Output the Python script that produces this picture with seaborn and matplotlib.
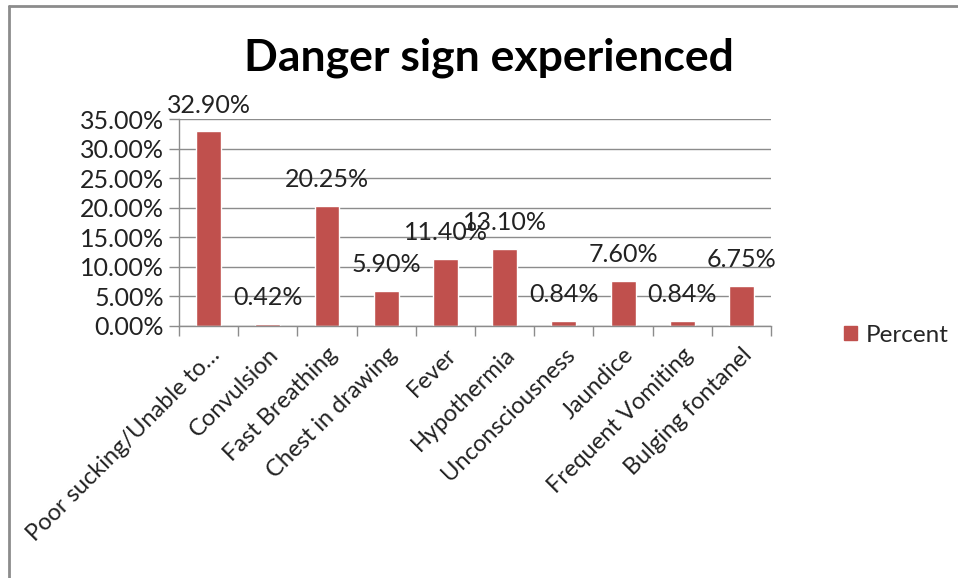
import matplotlib
matplotlib.use("Agg")
import matplotlib.pyplot as plt
import seaborn as sns
import pandas as pd
from matplotlib.lines import Line2D
from matplotlib.patches import Patch
from matplotlib.ticker import FuncFormatter, FixedLocator

categories = ["Poor sucking/Unable to\u2026", "Convulsion", "Fast Breathing",
              "Chest in drawing", "Fever", "Hypothermia", "Unconsciousness",
              "Jaundice", "Frequent Vomiting", "Bulging fontanel"]
percent = [32.90, 0.42, 20.25, 5.90, 11.40, 13.10, 0.84, 7.60, 0.84, 6.75]
label_texts = ["32.90%", "0.42%", "20.25%", "5.90%", "11.40%", "13.10%",
               "0.84%", "7.60%", "0.84%", "6.75%"]
yticks = [0, 5, 10, 15, 20, 25, 30, 35]

sns.set_theme(style="white")
plt.rcParams['font.family'] = ['Lato', 'DejaVu Sans']

df = pd.DataFrame({"Category": categories, "Percent": percent})

fig = plt.figure(figsize=(9.58, 5.78), dpi=100)
ax = fig.add_axes([0.1869, 0.436, 0.618, 0.358])

bar_color = "#C0504D"
sns.barplot(data=df, x="Category", y="Percent", color=bar_color, width=0.42,
            ax=ax, saturation=1)

ax.set_ylim(0, 35)
ax.set_xlim(-0.5, len(categories) - 0.5)
ax.set_yticks(yticks)
ax.yaxis.set_major_formatter(FuncFormatter(lambda v, p: f"{v:.2f}%"))
ax.grid(axis="y", color="#8c8c8c", linewidth=1)
ax.set_axisbelow(True)
ax.set_xlabel("")
ax.set_ylabel("")

for s in ["top", "right"]:
    ax.spines[s].set_visible(False)
for s in ["left", "bottom"]:
    ax.spines[s].set_color("#8c8c8c")
    ax.spines[s].set_linewidth(1)

ax.tick_params(axis="y", which="major", left=True, length=7, width=1,
               color="#8c8c8c", labelsize=18, labelcolor="#222222", pad=4)
ax.set_xticks(range(len(categories)))
ax.set_xticklabels(categories, rotation=45, ha="right", rotation_mode="anchor",
                   fontsize=17, color="#222222")
ax.tick_params(axis="x", which="major", bottom=False, length=0, pad=13)
ax.xaxis.set_minor_locator(FixedLocator([i - 0.5 for i in range(len(categories) + 1)]))
ax.tick_params(axis="x", which="minor", bottom=True, length=7, width=1,
               color="#8c8c8c")

for i, (v, t) in enumerate(zip(percent, label_texts)):
    ax.annotate(t, xy=(i, v), xytext=(0, 19), textcoords="offset points",
                ha="center", va="center", fontsize=18, color="#222222")

fig.text(0.510, 0.90, "Danger sign experienced", ha="center", va="center",
         fontsize=32, fontweight="bold", color="black")

handles = [Patch(facecolor=bar_color, edgecolor=bar_color, label="Percent")]
fig.legend(handles=handles, loc="center left", bbox_to_anchor=(0.868, 0.42),
           frameon=False, fontsize=17.5, handlelength=0.55, handleheight=0.55,
           handletextpad=0.35, borderpad=0)

# chart border (top and left edges)
fig.add_artist(Line2D([0.009, 1.0], [0.99, 0.99], transform=fig.transFigure,
                      color="#8c8c8c", linewidth=2))
fig.add_artist(Line2D([0.009, 0.009], [0.0, 0.99], transform=fig.transFigure,
                      color="#8c8c8c", linewidth=2))

fig.savefig("out.png", dpi=100, facecolor="white")
